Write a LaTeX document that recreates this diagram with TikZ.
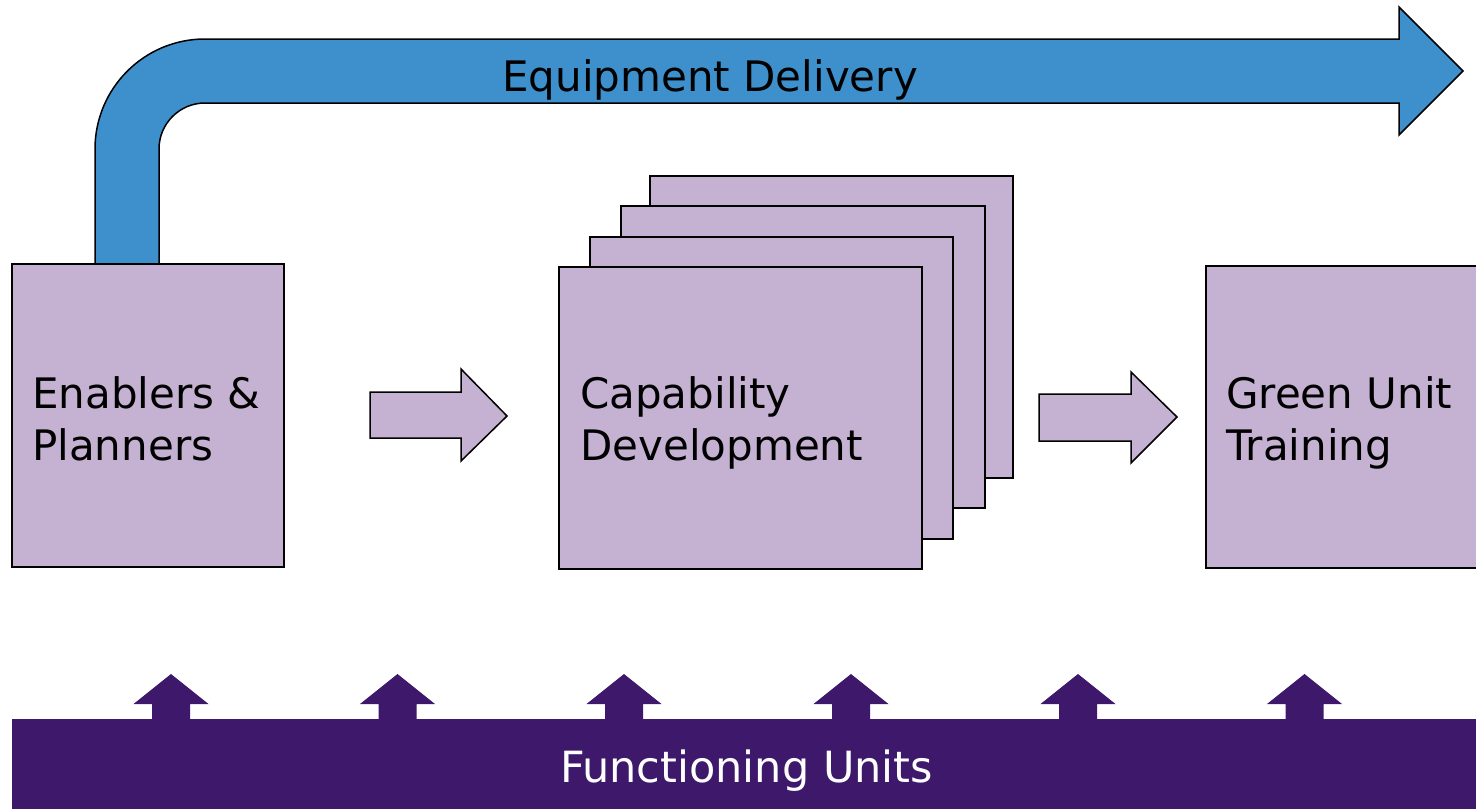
\documentclass[tikz,border=0pt]{standalone}
\usepackage{fontspec}
\setmainfont{DejaVu Sans}
\definecolor{eqblue}{RGB}{62,144,204}
\definecolor{lilac}{RGB}{197,177,209}
\definecolor{deeppurple}{RGB}{61,24,107}
\begin{document}
\begin{tikzpicture}[x=1pt,y=-1pt,
  boxstyle/.style={draw=black,fill=lilac,line width=1.5pt,rectangle,inner sep=0pt},
  labelstyle/.style={anchor=base west,inner sep=0pt,font=\fontsize{42}{52}\selectfont},
  flowarrow/.style={draw=black,fill=lilac,line width=1.5pt,line join=miter},
  uparrow/.style={fill=deeppurple}]
\useasboundingbox (0,0) rectangle (1476,809);
% blue bent arrow
\draw[fill=eqblue,draw=black,line width=1.5pt,line join=miter]
  (95,264) -- (95,149) .. controls (95,88.25) and (144.25,39) .. (205,39)
  -- (1399,39) -- (1399,7) -- (1463,71) -- (1399,135) -- (1399,103)
  -- (205,103) .. controls (179.6,103) and (159,123.6) .. (159,149) -- (159,264);
\node[labelstyle] (eqtext) at (502,91) {Equipment Delivery};
% boxes
\node[boxstyle,minimum width=272pt,minimum height=303pt] (enab) at (148,415.5) {};
\node[boxstyle,minimum width=363pt,minimum height=302pt] (cap4) at (831.5,327) {};
\node[boxstyle,minimum width=364pt,minimum height=302pt] (cap3) at (803,357) {};
\node[boxstyle,minimum width=363pt,minimum height=302pt] (cap2) at (771.5,388) {};
\node[boxstyle,minimum width=363pt,minimum height=302pt] (cap1) at (740.5,418) {};
\node[boxstyle,minimum width=290pt,minimum height=302pt] (green) at (1351,417) {};
\node[labelstyle] (enabtxt) at (32,408) {Enablers \&};
\node[labelstyle] (enabtxt2) at (32,460) {Planners};
\node[labelstyle] (captxt) at (580,408) {Capability};
\node[labelstyle] (captxt2) at (580,460) {Development};
\node[labelstyle] (greentxt) at (1226,408) {Green Unit};
\node[labelstyle] (greentxt2) at (1226,460) {Training};
% flow arrows
\draw[flowarrow] (370,392) -- (461,392) -- (461,369) -- (507,416) -- (461,461) -- (461,438) -- (370,438) -- cycle;
\draw[flowarrow] (1039,394) -- (1131,394) -- (1131,372) -- (1177,417) -- (1131,463) -- (1131,441) -- (1039,441) -- cycle;
% functioning units bar
\node[fill=deeppurple,rectangle,inner sep=0pt,minimum width=1464pt,minimum height=90pt] (bar) at (744,764) {};
\node[anchor=base,inner sep=0pt,text=white,font=\fontsize{43}{52}\selectfont] (bartxt) at (746.5,782) {Functioning Units};
\foreach \c in {171,397.5,624,851,1078,1304.5}{
  \fill[uparrow] (\c-19,720) -- (\c-19,704) -- (\c-37.5,704) -- (\c,674) -- (\c+37.5,704) -- (\c+19,704) -- (\c+19,720) -- cycle;
}
\end{tikzpicture}
\end{document}
